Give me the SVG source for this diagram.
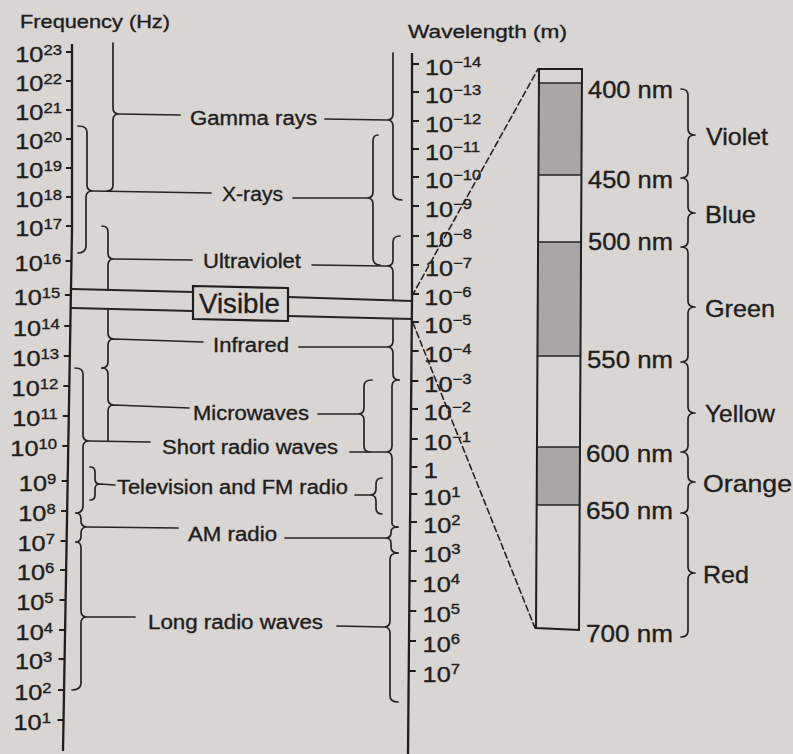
<svg xmlns="http://www.w3.org/2000/svg" width="793" height="754" viewBox="0 0 793 754">
<style>
text{font-family:"Liberation Sans",Arial,sans-serif;fill:#1f1d1d;stroke:#1f1d1d;stroke-width:0.35px}
.lab{font-size:19.5px}
.big{font-size:24px}
.num{font-size:22px}
.sup{font-size:14.5px}
.ln{fill:none;stroke:#262323;stroke-width:1.7;stroke-linecap:round;stroke-linejoin:round}
.ax{fill:none;stroke:#1f1d1d;stroke-width:2.3}
.tk{stroke:#1f1d1d;stroke-width:1.8}
.dash{fill:none;stroke:#262323;stroke-width:1.6;stroke-dasharray:6 3.5}
.gray{fill:#aaa6a4}
</style>
<rect width="793" height="754" fill="#d8d5d2"/>

<!-- axes -->
<g id="frequency-axis">
<text x="20" y="28" font-size="18.5" textLength="150" lengthAdjust="spacingAndGlyphs">Frequency (Hz)</text>
<polyline class="ax" points="72,44 72,230 63,751"/>
<path class="tk" d="M66,52H72M66,81H72M66,110H72M66,139H72M66,168H72M66,197H72M66,226H72M65.5,261H71.5M64.9,295H70.9M64.3,326H70.3M63.8,356H69.8M63.3,386H69.3M62.8,416H68.8M62.3,446H68.3M61.7,481H67.7M61.1,511H67.1M60.6,541H66.6M60.1,570H66.1M59.6,600H65.6M59.1,630H65.1M58.6,659H64.6M58,690H64M57.5,720H63.5"/>
<g transform="scale(1.15 1)" text-anchor="end" class="num">
<text x="53.9" y="62">10<tspan class="sup" dy="-7">23</tspan></text>
<text x="53.9" y="91">10<tspan class="sup" dy="-7">22</tspan></text>
<text x="53.9" y="120">10<tspan class="sup" dy="-7">21</tspan></text>
<text x="53.9" y="149">10<tspan class="sup" dy="-7">20</tspan></text>
<text x="53.9" y="178">10<tspan class="sup" dy="-7">19</tspan></text>
<text x="53.9" y="207">10<tspan class="sup" dy="-7">18</tspan></text>
<text x="53.9" y="236">10<tspan class="sup" dy="-7">17</tspan></text>
<text x="53.3" y="271">10<tspan class="sup" dy="-7">16</tspan></text>
<text x="52.5" y="305">10<tspan class="sup" dy="-7">15</tspan></text>
<text x="51.9" y="336">10<tspan class="sup" dy="-7">14</tspan></text>
<text x="51.3" y="366">10<tspan class="sup" dy="-7">13</tspan></text>
<text x="50.7" y="396">10<tspan class="sup" dy="-7">12</tspan></text>
<text x="50.2" y="426">10<tspan class="sup" dy="-7">11</tspan></text>
<text x="49.6" y="456">10<tspan class="sup" dy="-7">10</tspan></text>
<text x="48.9" y="491">10<tspan class="sup" dy="-7">9</tspan></text>
<text x="48.4" y="521">10<tspan class="sup" dy="-7">8</tspan></text>
<text x="47.8" y="551">10<tspan class="sup" dy="-7">7</tspan></text>
<text x="47.2" y="580">10<tspan class="sup" dy="-7">6</tspan></text>
<text x="46.6" y="610">10<tspan class="sup" dy="-7">5</tspan></text>
<text x="46.1" y="640">10<tspan class="sup" dy="-7">4</tspan></text>
<text x="45.5" y="669">10<tspan class="sup" dy="-7">3</tspan></text>
<text x="44.9" y="700">10<tspan class="sup" dy="-7">2</tspan></text>
<text x="44.3" y="730">10<tspan class="sup" dy="-7">1</tspan></text>
</g>
</g>

<g id="wavelength-axis">
<text x="408" y="38" font-size="18.5" textLength="159" lengthAdjust="spacingAndGlyphs">Wavelength (m)</text>
<polyline class="ax" points="412,53 412,300 408,754"/>
<path class="tk" d="M412,64H419M412,92H419M412,121H419M412,149H419M412,177H419M412,206H419M412,236H419M412,265H419M412,294H419M411.8,322H418.8M411.6,351H418.6M411.3,381H418.3M411,409H418M410.8,439H417.8M410.5,467H417.5M410.3,494H417.3M410,522H417M409.8,551H416.8M409.5,581H416.5M409.3,611H416.3M409,641H416M408.7,671H415.7"/>
<g transform="scale(1.15 1)" class="num">
<text x="369.5" y="75">10<tspan class="sup" dy="-8">−14</tspan></text>
<text x="369.5" y="103">10<tspan class="sup" dy="-8">−13</tspan></text>
<text x="369.5" y="132">10<tspan class="sup" dy="-8">−12</tspan></text>
<text x="369.5" y="160">10<tspan class="sup" dy="-8">−11</tspan></text>
<text x="369.5" y="188">10<tspan class="sup" dy="-8">−10</tspan></text>
<text x="369.5" y="217">10<tspan class="sup" dy="-8">−9</tspan></text>
<text x="369.5" y="247">10<tspan class="sup" dy="-8">−8</tspan></text>
<text x="369.5" y="276">10<tspan class="sup" dy="-8">−7</tspan></text>
<text x="369" y="305">10<tspan class="sup" dy="-8">−6</tspan></text>
<text x="369" y="333">10<tspan class="sup" dy="-8">−5</tspan></text>
<text x="369" y="362">10<tspan class="sup" dy="-8">−4</tspan></text>
<text x="369" y="392">10<tspan class="sup" dy="-8">−3</tspan></text>
<text x="368.5" y="420">10<tspan class="sup" dy="-8">−2</tspan></text>
<text x="368.5" y="450">10<tspan class="sup" dy="-8">−1</tspan></text>
<text x="368.5" y="478">1</text>
<text x="368" y="505">10<tspan class="sup" dy="-8">1</tspan></text>
<text x="368" y="533">10<tspan class="sup" dy="-8">2</tspan></text>
<text x="368" y="562">10<tspan class="sup" dy="-8">3</tspan></text>
<text x="367.5" y="592">10<tspan class="sup" dy="-8">4</tspan></text>
<text x="367.5" y="622">10<tspan class="sup" dy="-8">5</tspan></text>
<text x="367.5" y="652">10<tspan class="sup" dy="-8">6</tspan></text>
<text x="367.5" y="682">10<tspan class="sup" dy="-8">7</tspan></text>
</g>
</g>

<!-- band labels (nodes) -->
<g id="gamma"><text class="lab" x="190" y="125" textLength="127" lengthAdjust="spacingAndGlyphs">Gamma rays</text></g>
<g id="xrays"><text class="lab" x="222" y="201" textLength="61" lengthAdjust="spacingAndGlyphs">X-rays</text></g>
<g id="ultraviolet"><text class="lab" x="203" y="268" textLength="98" lengthAdjust="spacingAndGlyphs">Ultraviolet</text></g>
<g id="visible">
<polygon points="193,286 288,288 288,321 193,319" fill="none" stroke="#1f1d1d" stroke-width="2.2"/>
<text x="199" y="313" font-size="28" textLength="81" lengthAdjust="spacingAndGlyphs">Visible</text>
</g>
<g id="infrared"><text class="lab" x="213" y="352" textLength="76" lengthAdjust="spacingAndGlyphs">Infrared</text></g>
<g id="microwaves"><text class="lab" x="193" y="420" textLength="116" lengthAdjust="spacingAndGlyphs">Microwaves</text></g>
<g id="short-radio"><text class="lab" x="162" y="454" textLength="176" lengthAdjust="spacingAndGlyphs">Short radio waves</text></g>
<g id="tv-fm"><text class="lab" x="117" y="494" textLength="231" lengthAdjust="spacingAndGlyphs">Television and FM radio</text></g>
<g id="am-radio"><text class="lab" x="188" y="541" textLength="89" lengthAdjust="spacingAndGlyphs">AM radio</text></g>
<g id="long-radio"><text class="lab" x="148" y="629" textLength="175" lengthAdjust="spacingAndGlyphs">Long radio waves</text></g>

<!-- visible spectrum detail -->
<g id="spectrum-bar">
<polygon class="gray" points="539,83 582,83 581,175 538.5,175"/>
<polygon class="gray" points="538.3,242 581,242 580.5,356 537.7,356"/>
<polygon class="gray" points="537.2,447 580,447 579.7,505 536.9,505"/>
<polygon points="539,69 582,69 579,630 536,628" fill="none" stroke="#1f1d1d" stroke-width="2"/>
<path class="ln" d="M539,83H582M538.5,175H581M538.3,242H581M537.7,356H580.5M537.2,447H580M536.9,505H579.7" stroke-width="2"/>
</g>
<g id="nm-labels" class="big">
<text x="588" y="98" textLength="85" lengthAdjust="spacingAndGlyphs">400 nm</text>
<text x="588" y="188" textLength="85" lengthAdjust="spacingAndGlyphs">450 nm</text>
<text x="588" y="250" textLength="85" lengthAdjust="spacingAndGlyphs">500 nm</text>
<text x="587" y="368" textLength="86" lengthAdjust="spacingAndGlyphs">550 nm</text>
<text x="586" y="462" textLength="87" lengthAdjust="spacingAndGlyphs">600 nm</text>
<text x="586" y="519" textLength="87" lengthAdjust="spacingAndGlyphs">650 nm</text>
<text x="586" y="642" textLength="87" lengthAdjust="spacingAndGlyphs">700 nm</text>
</g>
<g id="violet"><text class="big" x="706" y="145" textLength="62" lengthAdjust="spacingAndGlyphs">Violet</text></g>
<g id="blue"><text class="big" x="705" y="223" textLength="51" lengthAdjust="spacingAndGlyphs">Blue</text></g>
<g id="green"><text class="big" x="705" y="317" textLength="70" lengthAdjust="spacingAndGlyphs">Green</text></g>
<g id="yellow"><text class="big" x="705" y="422" textLength="70" lengthAdjust="spacingAndGlyphs">Yellow</text></g>
<g id="orange"><text class="big" x="703" y="492" textLength="89" lengthAdjust="spacingAndGlyphs">Orange</text></g>
<g id="red"><text class="big" x="703" y="583" textLength="46" lengthAdjust="spacingAndGlyphs">Red</text></g>

<!-- connectors: braces, leader lines, band lines -->
<g id="connectors" class="ln">
<!-- left (frequency) braces -->
<path d="M113,43V108Q113,114 119,114L180,115M119,114Q113,114 113,120V185Q113,191 107,191"/>
<path d="M78,126Q87,126 87,132V185Q87,191 93,191L211,193M93,191Q86,191 86,197V247Q85,253 78,253"/>
<path d="M102,226Q108,226 108,232V253Q108,259 114,259L192,260M114,259Q108,259 108,265V290"/>
<path d="M108,309V333Q108,339 114,339L203,342M114,339Q108,339 108,345V362Q108,368 102,368"/>
<path d="M102,368Q108,368 108,374V399Q108,405 114,405L189,408M114,405Q108,405 108,411V441"/>
<path d="M75,368Q83,368 83,374V435Q83,441 89,441L150,442M89,441Q83,441 83,447V507Q82,513 76,513"/>
<path d="M90,467Q95,467 95,472V479Q95,484 100,484L115,485M100,484Q95,484 95,489V495Q95,500 90,500"/>
<path d="M76,513Q81,513 81,519V521Q81,527 87,527L178,528M87,527Q81,527 81,533V536Q81,542 76,542"/>
<path d="M76,542Q81,542 81,548V611Q81,617 87,617L135,617M87,617Q81,617 81,623V684Q80,690 72,690"/>
<!-- right (wavelength) braces -->
<path d="M393,53V114Q393,120 387,120L325,119M387,120Q393,120 393,126V194Q394,200 402,200"/>
<path d="M378,135Q373,135 373,141V192Q373,198 367,198L293,198M367,198Q373,198 373,204V258Q373,265 380,265"/>
<path d="M400,236Q393,236 393,242V260Q393,266 387,266L312,265M387,266Q393,266 393,272V300"/>
<path d="M393,319V341Q393,347 387,347L299,347M387,347Q393,347 393,353V374Q393,380 399,380"/>
<path d="M372,380Q364,380 364,386V408Q364,414 358,414L318,414M358,414Q364,414 364,420V446Q364,452 370,452"/>
<path d="M399,380Q392,380 392,386V446Q392,452 386,452L350,452M386,452Q392,452 392,458V521Q391,527 398,527"/>
<path d="M382,478Q376,478 376,484V489Q376,495 370,495L355,495M370,495Q376,495 376,501V508Q376,514 382,514"/>
<path d="M398,527Q391,527 391,532V533Q391,538 385,538L285,538M385,538Q391,538 391,543V547Q391,553 398,553"/>
<path d="M398,553Q390,553 390,559V621Q390,627 384,627L337,626M384,627Q390,627 390,633V696Q390,702 398,702"/>
<!-- visible band -->
<path d="M72,289L193,292M72,308L193,311M288,297L412,301M288,316L412,319" stroke-width="2.2"/>
<!-- zoom lines -->
<path class="dash" d="M412,296L538,69M413,323L535,628"/>
<!-- colour brace -->
<path d="M681,89Q688,89 688,95V129Q688,135 695,135Q688,135 688,141V172Q688,178 681,178Q688,178 688,184V207Q688,213 695,213Q688,213 688,219V241Q688,247 681,247Q688,247 688,253V301Q688,307 695,307Q688,307 688,313V356Q688,362 681,362Q688,362 688,368V407Q688,413 695,413Q688,413 688,419V446Q688,452 681,452Q688,452 688,458V476Q688,482 695,482Q688,482 688,488V507Q688,513 681,513Q688,513 688,519V567Q688,573 695,573Q688,573 688,579V631Q688,637 681,637"/>
</g>
</svg>
